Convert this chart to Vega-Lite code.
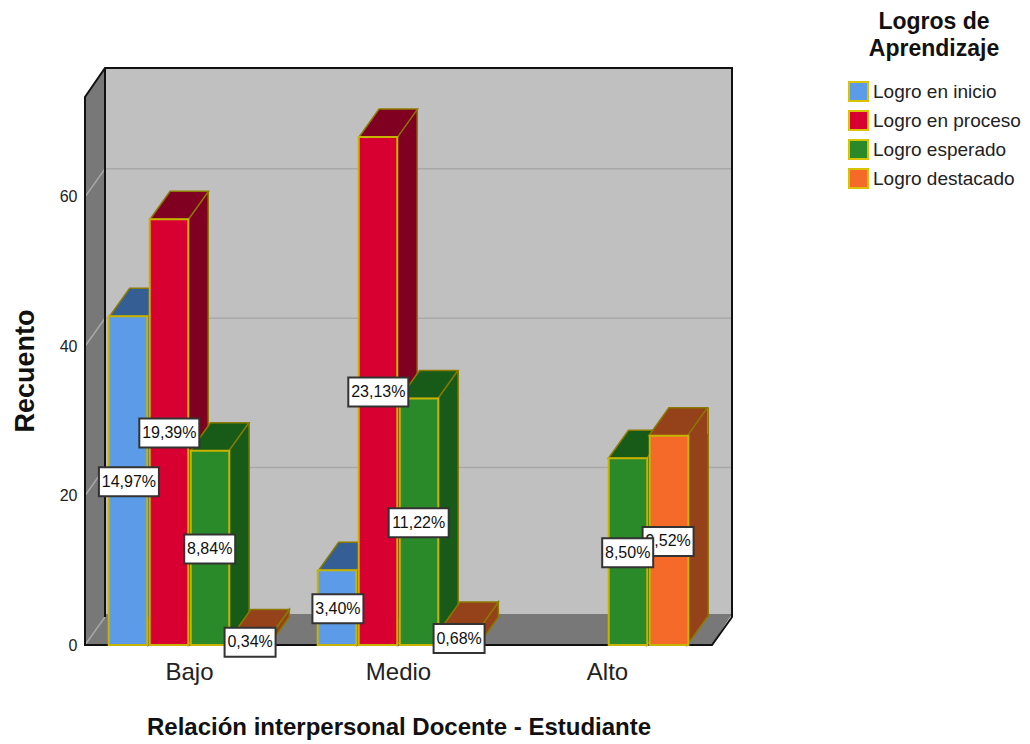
{"$schema":"https://vega.github.io/schema/vega-lite/v6.json","width":627,"height":549,"autosize":"none","padding":{"left":85,"top":96,"right":318,"bottom":99},"background":"white","view":{"stroke":null},"config":{"font":"Liberation Sans"},
"datasets":{"barras":[
{"Relacion":"Bajo","Logro":"Logro en inicio","Recuento":44,"Porcentaje":"14,97%"},
{"Relacion":"Bajo","Logro":"Logro en proceso","Recuento":57,"Porcentaje":"19,39%"},
{"Relacion":"Bajo","Logro":"Logro esperado","Recuento":26,"Porcentaje":"8,84%"},
{"Relacion":"Bajo","Logro":"Logro destacado","Recuento":1,"Porcentaje":"0,34%"},
{"Relacion":"Medio","Logro":"Logro en inicio","Recuento":10,"Porcentaje":"3,40%"},
{"Relacion":"Medio","Logro":"Logro en proceso","Recuento":68,"Porcentaje":"23,13%"},
{"Relacion":"Medio","Logro":"Logro esperado","Recuento":33,"Porcentaje":"11,22%"},
{"Relacion":"Medio","Logro":"Logro destacado","Recuento":2,"Porcentaje":"0,68%"},
{"Relacion":"Alto","Logro":"Logro esperado","Recuento":25,"Porcentaje":"8,50%"},
{"Relacion":"Alto","Logro":"Logro destacado","Recuento":28,"Porcentaje":"9,52%"}],
"muro":[{"Relacion":"Medio","Recuento":0}],
"rejilla":[{"Relacion":"Medio","Recuento":20},{"Relacion":"Medio","Recuento":40},{"Relacion":"Medio","Recuento":60}]},
"data":{"name":"barras"},
"encoding":{"x":{"field":"Relacion","type":"nominal","sort":["Bajo","Medio","Alto"],"scale":{"domain":["Bajo","Medio","Alto"],"paddingInner":0.227,"paddingOuter":0.1135},"axis":{"title":"Relación interpersonal Docente - Estudiante","domain":false,"ticks":false,"labelAngle":0,"labelFontSize":24,"labelColor":"#222222","labelPadding":15,"titleFontSize":24,"titleFontWeight":"bold","titleColor":"#111111","titlePadding":31}},
"y":{"field":"Recuento","type":"quantitative","scale":{"domain":[0,73.5],"nice":false,"zero":false},"axis":null}},
"layer":[
{"data":{"name":"muro"},"mark":{"type":"point","filled":true,"opacity":1,"fill":"#c0c0c0","size":4000000,"shape":"M -0.2935 -0.577 L 0.3335 -0.577 L 0.3335 -0.028 L -0.2935 -0.028 Z"},"encoding":{"y":{"field":"Recuento","type":"quantitative","scale":{"domain":[0,73.5],"nice":false,"zero":false},"axis":{"title":"Recuento","values":[0,20,40,60],"domain":false,"ticks":false,"grid":false,"labelFontSize":16,"labelColor":"#222222","labelPadding":8,"titleFontSize":27,"titleFontWeight":"bold","titleColor":"#111111","titlePadding":20}}}},
{"data":{"name":"muro"},"mark":{"type":"point","filled":true,"opacity":1,"fill":"#787878","size":4000000,"shape":"M -0.3135 0 L -0.3135 -0.548 L -0.2935 -0.577 L -0.2935 -0.031 L 0.3335 -0.031 L 0.3135 0 Z"}},
{"data":{"name":"rejilla"},"mark":{"type":"point","filled":false,"opacity":1,"stroke":"#a8a8a8","strokeWidth":1.5,"size":4000000,"shape":"M -0.3135 0 L -0.2935 -0.028 L 0.3335 -0.028"}},
{"data":{"name":"muro"},"mark":{"type":"point","filled":false,"opacity":1,"stroke":"#a8a8a8","strokeWidth":1.5,"size":4000000,"shape":"M -0.3135 0 L -0.2935 -0.028"}},
{"data":{"name":"muro"},"mark":{"type":"point","filled":false,"opacity":1,"stroke":"#111111","strokeWidth":2,"size":4000000,"shape":"M -0.3135 0 L -0.3135 -0.548 L -0.2935 -0.577 L 0.3335 -0.577 L 0.3335 -0.028 L 0.3135 0 Z M -0.2935 -0.577 L -0.2935 -0.028"}},
{"transform":[{"filter":"datum.Recuento>=4"}],"mark":{"type":"rule","strokeWidth":20,"strokeCap":"butt","yOffset":-2,"y2Offset":-28},"encoding":{"y2":{"datum":0},"xOffset":{"field":"Logro","type":"nominal","sort":["Logro en inicio","Logro en proceso","Logro esperado","Logro destacado"],"scale":{"domain":["Logro en inicio","Logro en proceso","Logro esperado","Logro destacado"],"paddingInner":0.06,"range":[29.25,190.75]}},"color":{"field":"Logro","type":"nominal","legend":null,"scale":{"domain":["Logro en inicio","Logro en proceso","Logro esperado","Logro destacado"],"range":["#355f94","#7f0020","#185a18","#95411a"]}}}},
{"transform":[{"filter":"datum.Recuento>=4"}],"mark":{"type":"point","filled":true,"opacity":1,"size":4000000,"shape":"M 0.01925 0 L 0.03925 -0.028 L 0.03925 0 Z"},"encoding":{"xOffset":{"field":"Logro","type":"nominal","scale":{"domain":["Logro en inicio","Logro en proceso","Logro esperado","Logro destacado"],"paddingInner":0.06}},"color":{"field":"Logro","type":"nominal","legend":null,"scale":{"domain":["Logro en inicio","Logro en proceso","Logro esperado","Logro destacado"],"range":["#355f94","#7f0020","#185a18","#95411a"]}}}},
{"transform":[{"filter":"datum.Recuento>=4"}],"mark":{"type":"point","filled":true,"opacity":1,"stroke":"#8a7a00","strokeWidth":1.5,"size":4000000,"shape":"M 0.01925 -0.028 L 0.01925 0 L 0.03925 -0.028"},"encoding":{"y":{"datum":0,"type":"quantitative","scale":{"domain":[0,73.5],"nice":false,"zero":false},"axis":null},"xOffset":{"field":"Logro","type":"nominal","scale":{"domain":["Logro en inicio","Logro en proceso","Logro esperado","Logro destacado"],"paddingInner":0.06}},"color":{"field":"Logro","type":"nominal","legend":null,"scale":{"domain":["Logro en inicio","Logro en proceso","Logro esperado","Logro destacado"],"range":["#355f94","#7f0020","#185a18","#95411a"]}}}},
{"transform":[{"filter":"datum.Recuento>=4"}],"mark":{"type":"rule","yOffset":-28,"y2Offset":-28,"stroke":"#8a7a00","strokeWidth":1.5},"encoding":{"y2":{"datum":0},"xOffset":{"field":"Logro","type":"nominal","scale":{"domain":["Logro en inicio","Logro en proceso","Logro esperado","Logro destacado"],"paddingInner":0.06,"range":[39.25,200.75]}}}},
{"transform":[{"filter":"datum.Recuento==1"}],"mark":{"type":"point","filled":true,"opacity":1,"stroke":"#8a7a00","strokeWidth":1.5,"size":4000000,"shape":"M 0.01925 0 L 0.03925 -0.028 L 0.03925 -0.0205 L 0.01925 0.0075 Z"},"encoding":{"xOffset":{"field":"Logro","type":"nominal","scale":{"domain":["Logro en inicio","Logro en proceso","Logro esperado","Logro destacado"],"paddingInner":0.06}},"color":{"value":"#95411a"}}},
{"transform":[{"filter":"datum.Recuento==2"}],"mark":{"type":"point","filled":true,"opacity":1,"stroke":"#8a7a00","strokeWidth":1.5,"size":4000000,"shape":"M 0.01925 0 L 0.03925 -0.028 L 0.03925 -0.013 L 0.01925 0.015 Z"},"encoding":{"xOffset":{"field":"Logro","type":"nominal","scale":{"domain":["Logro en inicio","Logro en proceso","Logro esperado","Logro destacado"],"paddingInner":0.06}},"color":{"value":"#95411a"}}},
{"mark":{"type":"point","filled":true,"opacity":1,"stroke":"#8a7a00","strokeWidth":1.5,"size":4000000,"shape":"M -0.01925 0 L 0.01925 0 L 0.03925 -0.028 L 0.00075 -0.028 Z"},"encoding":{"xOffset":{"field":"Logro","type":"nominal","scale":{"domain":["Logro en inicio","Logro en proceso","Logro esperado","Logro destacado"],"paddingInner":0.06}},"color":{"field":"Logro","type":"nominal","legend":null,"scale":{"domain":["Logro en inicio","Logro en proceso","Logro esperado","Logro destacado"],"range":["#355f94","#7f0020","#185a18","#95411a"]}}}},
{"mark":{"type":"bar","stroke":"#c8b400","strokeWidth":2},"encoding":{"xOffset":{"field":"Logro","type":"nominal","scale":{"domain":["Logro en inicio","Logro en proceso","Logro esperado","Logro destacado"],"paddingInner":0.06}},"color":{"field":"Logro","type":"nominal","scale":{"domain":["Logro en inicio","Logro en proceso","Logro esperado","Logro destacado"],"range":["#5b9be8","#d80030","#2a8a2a","#f56a28"]},"legend":{"orient":"none","legendX":763,"legendY":-85,"title":["Logros de","Aprendizaje"],"titleFontSize":23,"titleFontWeight":"bold","titleLineHeight":27,"titleColor":"#111111","titleAnchor":"middle","titleAlign":"center","titleLimit":300,"titlePadding":20,"labelFontSize":19,"labelColor":"#222222","labelLimit":300,"labelOffset":4,"symbolType":"square","symbolSize":361,"symbolStrokeColor":"#d8c400","symbolStrokeWidth":2,"symbolOpacity":1,"rowPadding":2}}}},
{"transform":[{"filter":"datum.Logro=='Logro destacado'"}],"mark":{"type":"point","filled":true,"opacity":1,"fill":"white","stroke":"#333333","strokeWidth":2,"size":4000000,"shape":"M -0.0255 -0.0145 L 0.0255 -0.0145 L 0.0255 0.0145 L -0.0255 0.0145 Z"},"encoding":{"xOffset":{"field":"Logro","type":"nominal","scale":{"domain":["Logro en inicio","Logro en proceso","Logro esperado","Logro destacado"],"paddingInner":0.06}},"y":{"field":"Recuento","type":"quantitative","scale":{"domain":[0,73.5],"nice":false,"zero":false,"range":[550,275.5]},"axis":null}}},
{"transform":[{"filter":"datum.Logro=='Logro destacado'"}],"mark":{"type":"text","fontSize":16,"color":"#111111","align":"center","baseline":"middle"},"encoding":{"text":{"field":"Porcentaje"},"xOffset":{"field":"Logro","type":"nominal","scale":{"domain":["Logro en inicio","Logro en proceso","Logro esperado","Logro destacado"],"paddingInner":0.06}},"y":{"field":"Recuento","type":"quantitative","scale":{"domain":[0,73.5],"nice":false,"zero":false,"range":[550,275.5]},"axis":null}}},
{"transform":[{"filter":"datum.Logro!='Logro destacado' && datum.Recuento<33"}],"mark":{"type":"point","filled":true,"opacity":1,"fill":"white","stroke":"#333333","strokeWidth":2,"size":4000000,"shape":"M -0.0255 -0.0145 L 0.0255 -0.0145 L 0.0255 0.0145 L -0.0255 0.0145 Z"},"encoding":{"xOffset":{"field":"Logro","type":"nominal","scale":{"domain":["Logro en inicio","Logro en proceso","Logro esperado","Logro destacado"],"paddingInner":0.06}},"y":{"field":"Recuento","type":"quantitative","scale":{"domain":[0,73.5],"nice":false,"zero":false,"range":[550,275.5]},"axis":null}}},
{"transform":[{"filter":"datum.Logro!='Logro destacado' && datum.Recuento>=33"}],"mark":{"type":"point","filled":true,"opacity":1,"fill":"white","stroke":"#333333","strokeWidth":2,"size":4000000,"shape":"M -0.03 -0.0145 L 0.03 -0.0145 L 0.03 0.0145 L -0.03 0.0145 Z"},"encoding":{"xOffset":{"field":"Logro","type":"nominal","scale":{"domain":["Logro en inicio","Logro en proceso","Logro esperado","Logro destacado"],"paddingInner":0.06}},"y":{"field":"Recuento","type":"quantitative","scale":{"domain":[0,73.5],"nice":false,"zero":false,"range":[550,275.5]},"axis":null}}},
{"transform":[{"filter":"datum.Logro!='Logro destacado'"}],"mark":{"type":"text","fontSize":16,"color":"#111111","align":"center","baseline":"middle"},"encoding":{"text":{"field":"Porcentaje"},"xOffset":{"field":"Logro","type":"nominal","scale":{"domain":["Logro en inicio","Logro en proceso","Logro esperado","Logro destacado"],"paddingInner":0.06}},"y":{"field":"Recuento","type":"quantitative","scale":{"domain":[0,73.5],"nice":false,"zero":false,"range":[550,275.5]},"axis":null}}}
],
"resolve":{"scale":{"y":"independent","color":"independent","xOffset":"independent"}}}
